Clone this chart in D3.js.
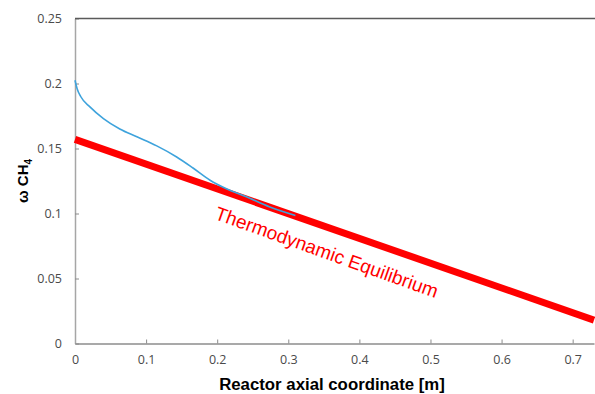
<!DOCTYPE html>
<html>
<head>
<meta charset="utf-8">
<script src="https://cdn.jsdelivr.net/npm/d3@7"></script>
<style>
  body { margin: 0; background: #fff; }
  svg { display: block; }
</style>
</head>
<body>
<svg id="chart" width="595" height="394"></svg>
<script>
// reactor profile
const reactorX = [0, 0.003, 0.008, 0.021, 0.040, 0.063, 0.087, 0.115, 0.143, 0.166, 0.190, 0.213, 0.241, 0.274, 0.310];
const reactorY = [0.2025, 0.196, 0.190, 0.182, 0.173, 0.165, 0.159, 0.152, 0.1435, 0.135, 0.1256, 0.119, 0.1128, 0.105, 0.0985];

// equilibrium line
const equilX = [0, 0.73];
const equilY = [0.157, 0.018];

const xTicks = [0, 0.1, 0.2, 0.3, 0.4, 0.5, 0.6, 0.7];
const yTicks = [0, 0.05, 0.1, 0.15, 0.2, 0.25];
const yTickLabels = ['0', '0.05', '0.1', '0.15', '0.2', '0.25'];

const svg = d3.select('#chart');

const plotLeft = 75, plotRight = 594, plotTop = 18.5, plotBottom = 343.5;

const xScale = d3.scaleLinear().domain([0, 0.73]).range([plotLeft, plotRight]);
const yScale = d3.scaleLinear().domain([0, 0.25]).range([plotBottom, plotTop]);

const tickFont = '"Open Sans", sans-serif';

// x axis
const xAxis = svg.append('g')
  .attr('transform', `translate(0,${plotBottom})`)
  .call(d3.axisBottom(xScale)
    .tickValues(xTicks)
    .tickFormat(d3.format('~g'))
    .tickSizeInner(-4)
    .tickSizeOuter(0)
    .tickPadding(12));

// y axis
const yAxis = svg.append('g')
  .attr('transform', `translate(${plotLeft},0)`)
  .call(d3.axisLeft(yScale)
    .tickValues(yTicks)
    .tickFormat((d, i) => yTickLabels[i])
    .tickSizeInner(-4)
    .tickSizeOuter(0)
    .tickPadding(13));

xAxis.select('.domain').attr('stroke', '#8c8c8c').attr('stroke-width', 1.5);
yAxis.select('.domain').attr('stroke', '#a6a6a6').attr('stroke-width', 1.5);
[xAxis, yAxis].forEach(a => {
  a.selectAll('.tick line').attr('stroke', '#8c8c8c');
  a.selectAll('.tick text')
    .attr('fill', '#4a4a4a')
    .style('font-family', tickFont)
    .style('font-size', '12.5px');
});

// top frame line
svg.append('line')
  .attr('x1', plotLeft).attr('x2', 595)
  .attr('y1', plotTop).attr('y2', plotTop)
  .attr('stroke', '#5a5a5a')
  .attr('stroke-width', 1.5);

// equilibrium line
const equilData = equilX.map((x, i) => ({x: x, y: equilY[i]}));
svg.append('path')
  .datum(equilData)
  .attr('fill', 'none')
  .attr('stroke', '#ff0000')
  .attr('stroke-width', 7)
  .attr('d', d3.line().x(d => xScale(d.x)).y(d => yScale(d.y)));

// reactor profile
const reactorData = reactorX.map((x, i) => ({x: x, y: reactorY[i]}));
svg.append('path')
  .datum(reactorData)
  .attr('fill', 'none')
  .attr('stroke', '#3ea3dc')
  .attr('stroke-width', 1.6)
  .attr('d', d3.line().x(d => xScale(d.x)).y(d => yScale(d.y)).curve(d3.curveMonotoneX));

// rotated label along the line
const ang = Math.atan2(yScale(equilY[1]) - yScale(equilY[0]), xScale(equilX[1]) - xScale(equilX[0])) * 180 / Math.PI;
svg.append('text')
  .attr('transform', `translate(${xScale(0.195)},${yScale(0.096)}) rotate(${ang + 0.5})`)
  .attr('fill', '#ff0000')
  .style('font-family', '"Liberation Sans", Arial, sans-serif')
  .style('font-size', '19px')
  .text('Thermodynamic Equilibrium');

// axis titles
svg.append('text')
  .attr('x', 332)
  .attr('y', 390)
  .attr('text-anchor', 'middle')
  .attr('fill', '#000')
  .style('font-family', '"Liberation Sans", Arial, sans-serif')
  .style('font-weight', 'bold')
  .style('font-size', '16.8px')
  .text('Reactor axial coordinate [m]');

const yTitle = svg.append('text')
  .attr('transform', 'translate(28,181) rotate(-90)')
  .attr('text-anchor', 'middle')
  .attr('fill', '#000')
  .style('font-family', '"Liberation Sans", Arial, sans-serif')
  .style('font-weight', 'bold')
  .style('font-size', '15px');
yTitle.append('tspan').text('ω CH');
yTitle.append('tspan').attr('dy', 4).style('font-size', '10px').text('4');
</script>
</body>
</html>
